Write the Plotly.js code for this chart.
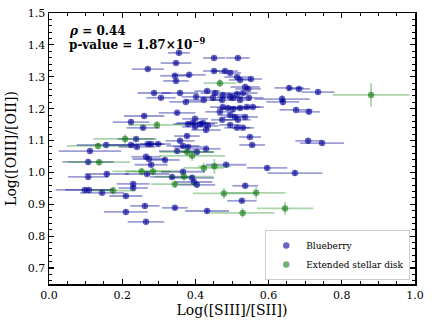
<!DOCTYPE html>
<html><head><meta charset="utf-8">
<script src="https://cdn.plot.ly/plotly-3.0.1.min.js"></script>
<style>body{margin:0;padding:0;background:#fff}#chart{width:432px;height:327px}</style>
</head><body><div id="chart"></div>
<script>
const blueX = [0.355,0.347,0.270,0.344,0.383,0.347,0.451,0.516,0.451,0.481,0.495,0.514,0.522,0.552,0.536,0.544,
0.287,0.306,0.358,0.402,0.374,0.423,0.432,0.454,0.475,0.495,0.514,0.530,0.448,0.473,0.503,0.522,0.546,
0.475,0.489,0.503,0.522,0.541,0.557,0.467,0.495,0.508,0.536,0.473,0.516,0.421,0.393,0.399,0.495,0.514,0.530,
0.549,0.555,0.429,0.656,0.683,0.735,0.637,0.639,0.675,0.710,0.708,0.746,0.596,0.672,0.260,0.350,0.224,0.257,
0.380,0.399,0.413,0.434,0.377,0.358,0.366,0.238,0.156,0.112,0.224,0.240,0.270,0.279,0.298,0.350,0.404,0.429,
0.265,0.273,0.317,0.279,0.107,0.158,0.107,0.268,0.366,0.336,0.391,0.396,0.404,0.230,0.230,0.145,0.098,0.109,
0.210,0.262,0.344,0.432,0.210,0.265,0.484,0.536,0.527,0.380];
const blueY = [1.375,1.343,1.324,1.303,1.306,1.287,1.359,1.359,1.318,1.318,1.312,1.299,1.290,1.293,1.268,1.262,
1.249,1.234,1.249,1.237,1.221,1.227,1.255,1.249,1.243,1.237,1.246,1.249,1.234,1.227,1.234,1.227,1.234,
1.205,1.202,1.199,1.202,1.205,1.205,1.190,1.180,1.174,1.174,1.165,1.165,1.155,1.155,1.143,1.149,1.140,1.140,
1.111,1.086,1.133,1.265,1.262,1.252,1.230,1.221,1.196,1.190,1.099,1.092,1.014,0.998,1.177,1.187,1.158,1.140,
1.152,1.168,1.152,1.146,1.114,1.099,1.083,1.105,1.086,1.067,1.086,1.080,1.089,1.089,1.089,1.067,1.064,1.074,
1.049,1.042,1.039,1.024,1.033,0.995,0.986,0.995,1.002,0.986,0.983,0.970,0.961,0.964,0.951,0.936,0.945,0.945,
0.926,0.895,0.889,0.879,0.876,0.845,1.024,0.958,0.911,1.080];
const blueXerr = [0.030,0.042,0.044,0.040,0.045,0.035,0.030,0.032,0.030,0.035,0.030,0.035,0.030,0.030,0.040,0.035,
0.045,0.040,0.050,0.040,0.045,0.050,0.035,0.040,0.030,0.035,0.030,0.040,0.035,0.030,0.035,0.030,0.040,
0.035,0.030,0.035,0.030,0.035,0.030,0.040,0.035,0.030,0.035,0.030,0.035,0.040,0.045,0.035,0.030,0.035,0.030,
0.030,0.035,0.040,0.040,0.030,0.045,0.075,0.045,0.045,0.030,0.035,0.060,0.055,0.075,0.055,0.050,0.050,0.045,
0.040,0.035,0.040,0.030,0.035,0.040,0.045,0.050,0.080,0.085,0.060,0.050,0.045,0.030,0.035,0.050,0.045,0.040,
0.040,0.045,0.040,0.045,0.070,0.060,0.055,0.060,0.060,0.060,0.060,0.050,0.050,0.045,0.040,0.060,0.080,0.065,
0.045,0.040,0.035,0.060,0.060,0.050,0.055,0.035,0.040,0.040];
const blueYerr = [0.008,0.006,0.007,0.006,0.008,0.006,0.007,0.006,0.006,0.007,0.006,0.006,0.007,0.006,0.008,0.006,
0.007,0.006,0.008,0.006,0.007,0.006,0.006,0.007,0.006,0.006,0.007,0.006,0.006,0.007,0.006,0.006,0.007,
0.006,0.006,0.007,0.006,0.006,0.007,0.006,0.006,0.007,0.006,0.006,0.007,0.006,0.006,0.007,0.006,0.006,0.007,
0.006,0.006,0.007,0.008,0.007,0.008,0.012,0.010,0.008,0.007,0.008,0.008,0.008,0.009,0.008,0.007,0.008,0.007,
0.007,0.006,0.007,0.006,0.007,0.006,0.007,0.007,0.008,0.008,0.007,0.007,0.006,0.006,0.007,0.007,0.007,0.006,
0.007,0.006,0.007,0.007,0.008,0.008,0.008,0.007,0.008,0.007,0.008,0.007,0.007,0.007,0.007,0.008,0.008,0.008,
0.007,0.008,0.007,0.008,0.008,0.008,0.007,0.008,0.007,0.007];
const greenX = [0.467,0.880,0.295,0.208,0.134,0.137,0.175,0.253,0.284,0.377,0.391,0.423,0.452,0.369,0.344,0.478,0.566,0.529,0.645];
const greenY = [1.280,1.243,1.149,1.105,1.083,1.032,0.943,1.003,1.003,1.064,1.052,1.014,1.019,0.987,0.963,0.934,0.936,0.873,0.887];
const greenXerr = [0.045,0.105,0.078,0.087,0.085,0.085,0.060,0.080,0.075,0.075,0.090,0.055,0.045,0.080,0.065,0.085,0.080,0.087,0.077];
const greenYerr = [0.012,0.037,0.012,0.015,0.010,0.010,0.012,0.012,0.012,0.012,0.016,0.016,0.023,0.012,0.012,0.017,0.018,0.015,0.020];
const seriesNames = ["Blueberry", "Extended stellar disk"];
const xTicks = [0.0,0.2,0.4,0.6,0.8,1.0];
const xTickLabels = ["0.0","0.2","0.4","0.6","0.8","1.0"];
const yTicks = [0.7,0.8,0.9,1.0,1.1,1.2,1.3,1.4,1.5];
const yTickLabels = ["0.7","0.8","0.9","1.0","1.1","1.2","1.3","1.4","1.5"];

const serif = "DejaVu Serif, serif";
const traces = [
  {x: blueX, y: blueY, name: seriesNames[0], type: "scatter", mode: "markers",
   marker: {color: "rgba(0,0,150,0.6)", size: 6.5, line: {width: 0}},
   error_x: {type: "data", array: blueXerr, visible: true, color: "rgba(0,0,150,0.38)", thickness: 1.8, width: 0},
   error_y: {type: "data", array: blueYerr, visible: true, color: "rgba(0,0,150,0.38)", thickness: 1.8, width: 0}},
  {x: greenX, y: greenY, name: seriesNames[1], type: "scatter", mode: "markers",
   marker: {color: "rgba(0,110,0,0.55)", size: 6.5, line: {width: 0}},
   error_x: {type: "data", array: greenXerr, visible: true, color: "rgba(0,128,0,0.33)", thickness: 1.8, width: 0},
   error_y: {type: "data", array: greenYerr, visible: true, color: "rgba(0,128,0,0.33)", thickness: 1.8, width: 0}}
];
const axisCommon = {
  showline: true, linecolor: "#000", linewidth: 1.5, mirror: "ticks",
  ticks: "inside", ticklen: 5, tickwidth: 1.2, tickcolor: "#000",
  showgrid: false, zeroline: false, tickfont: {family: serif, size: 11, color: "#000"},
  tickmode: "array"
};
const layout = {
  width: 432, height: 327,
  margin: {l: 49, r: 17, t: 13, b: 43},
  paper_bgcolor: "#fff", plot_bgcolor: "#fff",
  showlegend: true,
  xaxis: Object.assign({}, axisCommon, {range: [0, 1.0], tickvals: xTicks, ticktext: xTickLabels,
    minor: {dtick: 0.05, ticks: "inside", ticklen: 3, tickcolor: "#000", tickwidth: 1},
    title: {text: "Log([SIII]/[SII])", font: {family: serif, size: 14, color: "#000"}, standoff: 4}}),
  yaxis: Object.assign({}, axisCommon, {range: [0.65, 1.5], tickvals: yTicks, ticktext: yTickLabels,
    minor: {dtick: 0.02, ticks: "inside", ticklen: 3, tickcolor: "#000", tickwidth: 1},
    title: {text: "Log([OIII]/[OII])", font: {family: serif, size: 14, color: "#000"}, standoff: 8}}),
  legend: {x: 0.987, y: 0.015, xanchor: "right", yanchor: "bottom",
    bgcolor: "rgba(255,255,255,0.8)", bordercolor: "#cccccc", borderwidth: 1,
    font: {family: serif, size: 9, color: "#000"}, itemwidth: 30, tracegroupgap: 0},
  annotations: [
    {xref: "paper", yref: "paper", x: 0.05, y: 0.935, xanchor: "left", yanchor: "middle", showarrow: false,
     text: "<b><i>ρ</i> = 0.44</b>", font: {family: serif, size: 12, color: "#000"}},
    {xref: "paper", yref: "paper", x: 0.05, y: 0.885, xanchor: "left", yanchor: "middle", showarrow: false,
     text: "<b>p-value = 1.87×10<sup>−9</sup></b>", font: {family: serif, size: 12, color: "#000"}}
  ]
};
Plotly.newPlot("chart", traces, layout, {staticPlot: true, displayModeBar: false});
</script></body></html>
